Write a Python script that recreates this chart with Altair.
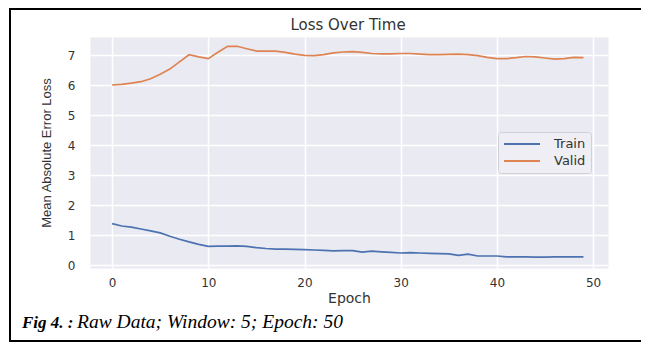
import altair as alt
import pandas as pd

epochs = list(range(50))
train = [1.38, 1.30, 1.26, 1.20, 1.14, 1.07, 0.96, 0.86, 0.77, 0.69,
         0.62, 0.63, 0.63, 0.64, 0.62, 0.58, 0.55, 0.53, 0.53, 0.52,
         0.51, 0.50, 0.49, 0.47, 0.48, 0.48, 0.43, 0.46, 0.44, 0.42,
         0.40, 0.41, 0.40, 0.39, 0.38, 0.37, 0.32, 0.36, 0.30, 0.30,
         0.30, 0.27, 0.27, 0.27, 0.26, 0.26, 0.27, 0.27, 0.27, 0.27]
valid = [6.00, 6.02, 6.06, 6.11, 6.21, 6.36, 6.53, 6.77, 7.01, 6.94,
         6.88, 7.09, 7.29, 7.29, 7.21, 7.13, 7.13, 7.13, 7.09, 7.03,
         6.99, 6.98, 7.01, 7.07, 7.10, 7.11, 7.09, 7.05, 7.04, 7.04,
         7.05, 7.05, 7.03, 7.01, 7.01, 7.02, 7.03, 7.01, 6.98, 6.92,
         6.88, 6.88, 6.91, 6.95, 6.94, 6.90, 6.86, 6.88, 6.92, 6.91]
series_names = ["Train", "Valid"]
series_colors = ["#4C72B0", "#DD8452"]
x_ticks = [0, 10, 20, 30, 40, 50]
y_ticks = [0, 1, 2, 3, 4, 5, 6, 7]
title_text = "Loss Over Time"
x_title = "Epoch"
y_title = "Mean Absolute Error Loss"
caption_bold = "Fig 4. :"
caption_rest = "Raw Data; Window: 5; Epoch: 50"

df = pd.DataFrame({
    "Epoch": epochs + epochs,
    "Loss": train + valid,
    "Series": [series_names[0]] * len(train) + [series_names[1]] * len(valid),
})

TXT = "#333333"
W, H = 518, 231

lines = alt.Chart(df).mark_line(strokeWidth=1.7).encode(
    x=alt.X("Epoch:Q",
            scale=alt.Scale(domain=[-2.3, 51.55], nice=False, zero=False),
            axis=alt.Axis(values=x_ticks, title=x_title, format="d",
                          labelPadding=9, titleX=W / 2, titleY=34,
                          titleBaseline="alphabetic", titleAlign="center")),
    y=alt.Y("Loss:Q",
            scale=alt.Scale(domain=[-0.1, 7.6], nice=False, zero=False),
            axis=alt.Axis(values=y_ticks, title=y_title, format="d",
                          labelPadding=15, titleX=-40, titleY=H / 2,
                          titleBaseline="alphabetic", titleAlign="center",
                          titleFont="Liberation Sans", titleFontSize=13)),
    color=alt.Color("Series:N",
                    scale=alt.Scale(domain=series_names, range=series_colors),
                    legend=alt.Legend(title=None)),
)

one = alt.Data(values=[{}])

frame = alt.Chart(one).mark_rect(
    filled=False, stroke="black", strokeWidth=2
).encode(x=alt.value(-80), x2=alt.value(700), y=alt.value(-28), y2=alt.value(304))

title = alt.Chart(one).mark_text(
    font="DejaVu Sans", fontSize=15, align="center", baseline="alphabetic", color=TXT
).encode(x=alt.value(W / 2 - 1), y=alt.value(-7), text=alt.value(title_text))

cap1 = alt.Chart(one).mark_text(
    font="Liberation Serif", fontSize=17, fontStyle="italic", fontWeight="bold",
    align="left", baseline="alphabetic", color="black"
).encode(x=alt.value(-68), y=alt.value(291), text=alt.value(caption_bold))

cap2 = alt.Chart(one).mark_text(
    font="Liberation Serif", fontSize=19.5, fontStyle="italic",
    align="left", baseline="alphabetic", color="black"
).encode(x=alt.value(-13), y=alt.value(291), text=alt.value(caption_rest))

chart = alt.layer(lines, frame, title, cap1, cap2).properties(
    width=W, height=H,
    autosize=alt.AutoSizeParams(type="none"),
    padding={"left": 82, "top": 29, "right": 33, "bottom": 75},
).configure_view(
    fill="#EAEAF2", stroke="transparent"
).configure_axis(
    grid=True, gridColor="white", gridWidth=1.5, domain=False, ticks=False,
    labelFont="DejaVu Sans", labelFontSize=12, labelColor=TXT,
    titleFont="DejaVu Sans", titleFontSize=14, titleColor=TXT, titleFontWeight="normal",
).configure_legend(
    orient="none", legendX=408, legendY=95,
    symbolType="M-1,0H5", symbolSize=144, symbolStrokeWidth=1.8,
    labelFont="DejaVu Sans", labelFontSize=13, labelColor=TXT, labelOffset=37,
    fillColor="#EEEEF4", strokeColor="#D0D0D8", cornerRadius=3, padding=5,
    rowPadding=3,
)

chart.save("out.html", embed_options={"renderer": "svg", "actions": False})
